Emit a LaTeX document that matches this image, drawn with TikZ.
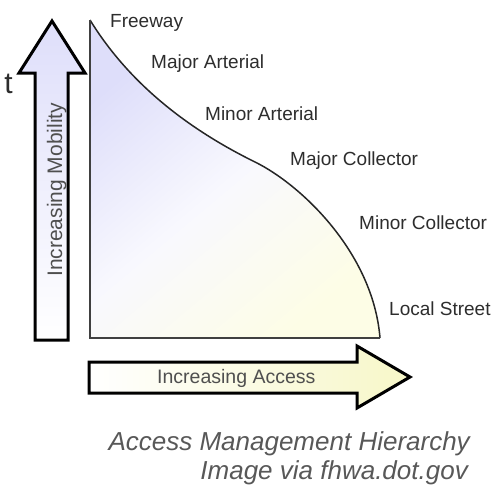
\documentclass[tikz,border=0pt]{standalone}
\usepackage{fontspec}
\setmainfont{Liberation Sans}
\usepackage{tikz}
\usetikzlibrary{positioning}
\usepackage{xcolor}
\definecolor{MobLav}{RGB}{222,222,250}
\definecolor{AccIvory}{RGB}{247,247,200}
\definecolor{HierLav}{RGB}{222,222,250}
\definecolor{HierIvory}{RGB}{253,253,230}
\definecolor{LblGray}{RGB}{45,45,45}
\definecolor{CapGray}{RGB}{88,88,88}

\begin{document}
\begin{tikzpicture}[x=1pt,y=-1pt, lbl/.style={font=\fontsize{19}{22}\selectfont,text=LblGray,inner sep=0pt,anchor=base west}, axlbl/.style={font=\fontsize{19.5}{22}\selectfont,text=CapGray!90!black,inner sep=0pt,anchor=base west}, capt/.style={font=\fontsize{26}{30}\selectfont\itshape,text=CapGray,inner sep=0pt,anchor=base east}, bigarr/.style={draw=black,line width=3pt,line join=miter}]
\useasboundingbox (0,0) rectangle (494,487);
\node[font=\fontsize{30}{32}\selectfont,text=LblGray,inner sep=0pt,anchor=base east] (tfrag) at (13,93) {t};
\path[bigarr,top color=MobLav,bottom color=white] (35,340) -- (35,73) -- (19,73) -- (52,21) -- (85,73) -- (68,73) -- (68,340) -- cycle;
\path[bigarr,left color=white,right color=AccIvory] (89,362) -- (357,362) -- (357,346) -- (410,377) -- (357,408) -- (357,393) -- (89,393) -- cycle;
\fill[top color=HierLav,bottom color=HierIvory,middle color=white!80!HierLav,shading angle=40] (90,20) .. controls (130,85) and (190,130) .. (255,162) .. controls (300,184) and (373,252) .. (380,338) -- (90,338) -- cycle;
\draw[line width=1.5pt,black!85] (90,20) .. controls (130,85) and (190,130) .. (255,162) .. controls (300,184) and (373,252) .. (380,338);
\draw[line width=2pt,black!75] (90,20) -- (90,338) -- (380,338);
\node[axlbl,rotate=90,font=\fontsize{21}{24}\selectfont] (mob) at (62,277) {Increasing Mobility};
\node[axlbl] (acc) at (157,383) {Increasing Access};
\node[lbl] (fwy) at (110,28) {Freeway};
\node[lbl] (mja) at (151,68) {Major Arterial};
\node[lbl] (mna) at (205,120) {Minor Arterial};
\node[lbl] (mjc) at (290,165) {Major Collector};
\node[lbl] (mnc) at (359,229) {Minor Collector};
\node[lbl] (loc) at (389,315) {Local Street};
\node[capt] (cap1) at (470,450) {Access Management Hierarchy};
\node[capt] (cap2) at (468,479) {Image via fhwa.dot.gov};
\end{tikzpicture}
\end{document}
